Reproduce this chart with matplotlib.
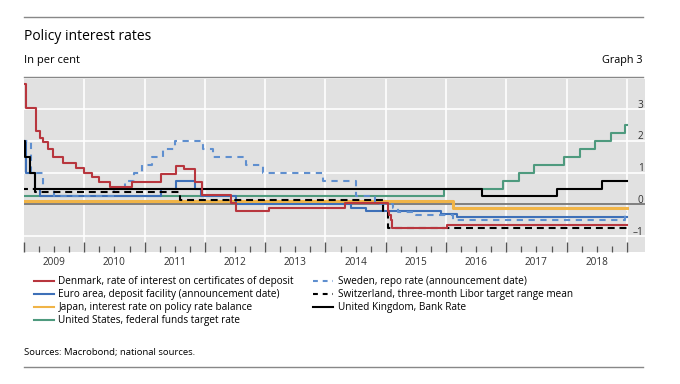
import matplotlib
matplotlib.use('Agg')
import matplotlib.pyplot as plt
import matplotlib.transforms as mtransforms
from matplotlib.lines import Line2D

plt.rcParams['font.family'] = ['Open Sans', 'DejaVu Sans']
plt.rcParams['lines.scale_dashes'] = False

# step series: date of change (decimal year) and new rate
dk_dates = [2008.95, 2009.04, 2009.20, 2009.26, 2009.32, 2009.40, 2009.48, 2009.65, 2009.87,
            2010.00, 2010.12, 2010.25, 2010.42, 2010.79, 2011.27, 2011.52, 2011.66, 2011.83,
            2011.96, 2012.44, 2012.51, 2013.07, 2014.33, 2015.04, 2015.06, 2015.08, 2015.10,
            2016.02, 2019.0]
dk_rates = [3.80, 3.05, 2.30, 2.10, 1.95, 1.75, 1.50, 1.30, 1.15,
            1.00, 0.85, 0.70, 0.55, 0.70, 0.95, 1.20, 1.10, 0.70,
            0.30, 0.05, -0.20, -0.10, 0.05, -0.20, -0.35, -0.50, -0.75,
            -0.65, -0.65]

ea_dates = [2008.95, 2009.04, 2009.18, 2009.26, 2011.27, 2011.52, 2011.84, 2011.94, 2012.51,
            2014.43, 2014.68, 2015.92, 2016.19, 2019.0]
ea_rates = [2.0, 1.0, 0.5, 0.25, 0.5, 0.75, 0.5, 0.25, 0.0, -0.1, -0.2, -0.3, -0.4, -0.4]

jp_dates = [2008.95, 2016.12, 2019.0]
jp_rates = [0.1, -0.1, -0.1]

us_dates = [2008.95, 2015.96, 2016.95, 2017.21, 2017.46, 2017.96, 2018.22, 2018.47, 2018.73,
            2018.97, 2019.0]
us_rates = [0.25, 0.5, 0.75, 1.0, 1.25, 1.5, 1.75, 2.0, 2.25, 2.5, 2.5]

se_dates = [2008.95, 2009.12, 2009.31, 2009.50, 2010.50, 2010.67, 2010.82, 2010.96, 2011.13,
            2011.30, 2011.51, 2011.97, 2012.13, 2012.68, 2012.96, 2013.96, 2014.51, 2014.82,
            2015.12, 2015.21, 2015.50, 2016.11, 2018.97, 2019.0]
se_rates = [2.0, 1.0, 0.5, 0.25, 0.5, 0.75, 1.0, 1.25, 1.5,
            1.75, 2.0, 1.75, 1.5, 1.25, 1.0, 0.75, 0.25, 0.0,
            -0.1, -0.25, -0.35, -0.5, -0.25, -0.25]

ch_dates = [2008.95, 2009.19, 2011.59, 2014.96, 2015.04, 2019.0]
ch_rates = [0.5, 0.375, 0.125, -0.25, -0.75, -0.75]

uk_dates = [2008.95, 2009.02, 2009.10, 2009.18, 2016.59, 2017.84, 2018.59, 2019.0]
uk_rates = [2.0, 1.5, 1.0, 0.5, 0.25, 0.5, 0.75, 0.75]

years = [2009, 2010, 2011, 2012, 2013, 2014, 2015, 2016, 2017, 2018]
yticks = [-1, 0, 1, 2, 3]

c_dk = '#b8363e'
c_ea = '#3e70b8'
c_jp = '#f0b447'
c_us = '#4e9a7e'
c_se = '#5f8fcf'

fig = plt.figure(figsize=(6.8, 3.84), dpi=100)
ax = fig.add_axes([24 / 680, 1 - 252 / 384, 621 / 680, 173 / 384])
ax.set_facecolor('#e1e1e1')

lw = 1.5
ax.step(jp_dates, jp_rates, where='post', color=c_jp, lw=2.2, zorder=3)
ax.step(us_dates, us_rates, where='post', color=c_us, lw=lw, zorder=3)
ax.step(ea_dates, ea_rates, where='post', color=c_ea, lw=lw, zorder=4)
ax.step(se_dates, se_rates, where='post', color=c_se, lw=lw, dashes=(4.5, 4), zorder=4)
ax.step(uk_dates, uk_rates, where='post', color='black', lw=lw, zorder=5)
ax.step(ch_dates, ch_rates, where='post', color='black', lw=lw, dashes=(5, 3.5), zorder=5)
ax.step(dk_dates, dk_rates, where='post', color=c_dk, lw=lw, zorder=6)
ax.axhline(0, color='#7f7f7f', lw=1.4, zorder=2)

ax.set_xlim(2009.0, 2019.3)
ax.set_ylim(-1.5, 3.95)

# grid
for y in yticks:
    if y != 0:
        ax.axhline(y, color='white', lw=1.2, zorder=1)
for yr in years[1:] + [2019]:
    ax.axvline(yr, color='white', lw=1.2, zorder=1)

for s in ax.spines.values():
    s.set_visible(False)

ax.set_xticks([y for y in years] + [2019])
ax.set_xticks([y + q / 4 for y in years for q in (1, 2, 3)], minor=True)
ax.tick_params(axis='x', which='major', direction='in', length=7, width=1.0, color='#555555',
               labelbottom=False)
ax.tick_params(axis='x', which='minor', direction='in', length=4, width=0.9, color='#555555')

ax.yaxis.tick_right()
ax.set_yticks(yticks)
ax.set_yticklabels(['\u20131', '0', '1', '2', '3'])
ax.tick_params(axis='y', length=0, pad=-1, labelsize=7.2, labelcolor='#333333')
off = mtransforms.ScaledTranslation(0, 4 / 72, fig.dpi_scale_trans)
for lab in ax.get_yticklabels():
    lab.set_horizontalalignment('right')
    lab.set_transform(lab.get_transform() + off)

for yr in years:
    ax.text(yr + 0.5, -0.03, str(yr), transform=ax.get_xaxis_transform(), ha='center', va='top',
            fontsize=7.2, color='#333333')

# header / footer
fig.text(24 / 680, 1 - 36 / 384, 'Policy interest rates', fontsize=10, va='center', ha='left')
fig.text(24 / 680, 1 - 61 / 384, 'In per cent', fontsize=8, va='center', ha='left')
fig.text(643 / 680, 1 - 61 / 384, 'Graph 3', fontsize=7.8, va='center', ha='right')
fig.text(24 / 680, 1 - 353 / 384, 'Sources: Macrobond; national sources.', fontsize=6.8,
         va='center', ha='left')
for yy in (17, 77, 367):
    fig.add_artist(Line2D([24 / 680, 643 / 680], [1 - yy / 384, 1 - yy / 384], color='#888888',
                          lw=1.0))

handles = [
    Line2D([], [], color=c_dk, lw=lw),
    Line2D([], [], color=c_ea, lw=lw),
    Line2D([], [], color=c_jp, lw=lw),
    Line2D([], [], color=c_us, lw=lw),
    Line2D([], [], color=c_se, lw=lw, dashes=(3.5, 3.5)),
    Line2D([], [], color='black', lw=lw, dashes=(3.5, 3.5)),
    Line2D([], [], color='black', lw=lw),
]
labels = [
    'Denmark, rate of interest on certificates of deposit',
    'Euro area, deposit facility (announcement date)',
    'Japan, interest rate on policy rate balance',
    'United States, federal funds target rate',
    'Sweden, repo rate (announcement date)',
    'Switzerland, three-month Libor target range mean',
    'United Kingdom, Bank Rate',
]
fig.legend(handles, labels, ncol=2, loc='upper left', bbox_to_anchor=(32 / 680, 1 - 274 / 384),
           frameon=False, fontsize=7.2, handlelength=2.0, handletextpad=0.45, columnspacing=1.9,
           labelspacing=0.2, borderaxespad=0, borderpad=0.2)

fig.savefig('out.png', dpi=100, facecolor='white')
